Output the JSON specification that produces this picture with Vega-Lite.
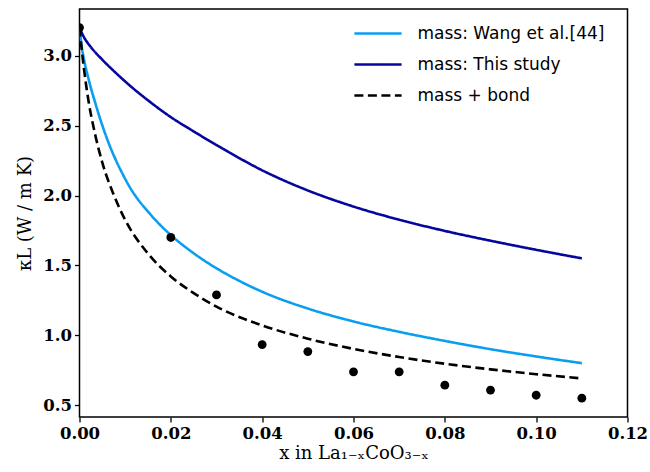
{
  "$schema": "https://vega.github.io/schema/vega-lite/v6.json",
  "width": 548,
  "height": 408,
  "autosize": "none",
  "padding": {"left": 79.5, "top": 9, "right": 22.5, "bottom": 55},
  "background": "white",
  "datasets": {
    "curves": [
      {"series": "mass: Wang et al.[44]", "x": 0.0, "y": 3.2},
      {"series": "mass: Wang et al.[44]", "x": 0.0005, "y": 3.06},
      {"series": "mass: Wang et al.[44]", "x": 0.001, "y": 2.97},
      {"series": "mass: Wang et al.[44]", "x": 0.002, "y": 2.83},
      {"series": "mass: Wang et al.[44]", "x": 0.0036, "y": 2.645},
      {"series": "mass: Wang et al.[44]", "x": 0.005, "y": 2.5},
      {"series": "mass: Wang et al.[44]", "x": 0.0065, "y": 2.365},
      {"series": "mass: Wang et al.[44]", "x": 0.008, "y": 2.25},
      {"series": "mass: Wang et al.[44]", "x": 0.0095, "y": 2.15},
      {"series": "mass: Wang et al.[44]", "x": 0.011, "y": 2.06},
      {"series": "mass: Wang et al.[44]", "x": 0.0124, "y": 1.99},
      {"series": "mass: Wang et al.[44]", "x": 0.015, "y": 1.885},
      {"series": "mass: Wang et al.[44]", "x": 0.0175, "y": 1.795},
      {"series": "mass: Wang et al.[44]", "x": 0.02, "y": 1.7175},
      {"series": "mass: Wang et al.[44]", "x": 0.025, "y": 1.5875},
      {"series": "mass: Wang et al.[44]", "x": 0.03, "y": 1.48},
      {"series": "mass: Wang et al.[44]", "x": 0.035, "y": 1.39},
      {"series": "mass: Wang et al.[44]", "x": 0.04, "y": 1.3125},
      {"series": "mass: Wang et al.[44]", "x": 0.05, "y": 1.1925},
      {"series": "mass: Wang et al.[44]", "x": 0.06, "y": 1.1},
      {"series": "mass: Wang et al.[44]", "x": 0.07, "y": 1.026},
      {"series": "mass: Wang et al.[44]", "x": 0.08, "y": 0.961},
      {"series": "mass: Wang et al.[44]", "x": 0.09, "y": 0.902},
      {"series": "mass: Wang et al.[44]", "x": 0.1, "y": 0.85},
      {"series": "mass: Wang et al.[44]", "x": 0.11, "y": 0.802},
      {"series": "mass: This study", "x": 0.0, "y": 3.2},
      {"series": "mass: This study", "x": 0.001, "y": 3.13},
      {"series": "mass: This study", "x": 0.0025, "y": 3.06},
      {"series": "mass: This study", "x": 0.005, "y": 2.97},
      {"series": "mass: This study", "x": 0.0075, "y": 2.89},
      {"series": "mass: This study", "x": 0.01, "y": 2.815},
      {"series": "mass: This study", "x": 0.0125, "y": 2.745},
      {"series": "mass: This study", "x": 0.015, "y": 2.68},
      {"series": "mass: This study", "x": 0.02, "y": 2.56},
      {"series": "mass: This study", "x": 0.025, "y": 2.458},
      {"series": "mass: This study", "x": 0.03, "y": 2.36},
      {"series": "mass: This study", "x": 0.035, "y": 2.267},
      {"series": "mass: This study", "x": 0.04, "y": 2.18},
      {"series": "mass: This study", "x": 0.045, "y": 2.104},
      {"series": "mass: This study", "x": 0.05, "y": 2.036},
      {"series": "mass: This study", "x": 0.06, "y": 1.921},
      {"series": "mass: This study", "x": 0.07, "y": 1.827},
      {"series": "mass: This study", "x": 0.08, "y": 1.747},
      {"series": "mass: This study", "x": 0.09, "y": 1.677},
      {"series": "mass: This study", "x": 0.1, "y": 1.612},
      {"series": "mass: This study", "x": 0.11, "y": 1.551},
      {"series": "mass + bond", "x": 0.0, "y": 3.2},
      {"series": "mass + bond", "x": 0.0005, "y": 3.04},
      {"series": "mass + bond", "x": 0.001, "y": 2.9},
      {"series": "mass + bond", "x": 0.002, "y": 2.67},
      {"series": "mass + bond", "x": 0.003, "y": 2.5},
      {"series": "mass + bond", "x": 0.005, "y": 2.235},
      {"series": "mass + bond", "x": 0.0075, "y": 2.005},
      {"series": "mass + bond", "x": 0.01, "y": 1.826},
      {"series": "mass + bond", "x": 0.015, "y": 1.585},
      {"series": "mass + bond", "x": 0.02, "y": 1.422},
      {"series": "mass + bond", "x": 0.025, "y": 1.303},
      {"series": "mass + bond", "x": 0.03, "y": 1.206},
      {"series": "mass + bond", "x": 0.04, "y": 1.072},
      {"series": "mass + bond", "x": 0.05, "y": 0.977},
      {"series": "mass + bond", "x": 0.06, "y": 0.904},
      {"series": "mass + bond", "x": 0.07, "y": 0.846},
      {"series": "mass + bond", "x": 0.08, "y": 0.798},
      {"series": "mass + bond", "x": 0.09, "y": 0.758},
      {"series": "mass + bond", "x": 0.1, "y": 0.7235},
      {"series": "mass + bond", "x": 0.11, "y": 0.693}
    ],
    "points": [
      {"x": 0.0, "y": 3.2},
      {"x": 0.02, "y": 1.7},
      {"x": 0.03, "y": 1.29},
      {"x": 0.04, "y": 0.935},
      {"x": 0.05, "y": 0.885},
      {"x": 0.06, "y": 0.74},
      {"x": 0.07, "y": 0.74},
      {"x": 0.08, "y": 0.645},
      {"x": 0.09, "y": 0.61},
      {"x": 0.1, "y": 0.573},
      {"x": 0.11, "y": 0.552}
    ]
  },
  "layer": [
    {
      "data": {"name": "curves"},
      "mark": {"type": "line", "interpolate": "monotone", "strokeWidth": 2.6, "clip": true},
      "encoding": {
        "x": {"field": "x", "type": "quantitative",
              "scale": {"domain": [0, 0.12], "nice": false, "zero": false},
              "axis": {"values": [0, 0.02, 0.04, 0.06, 0.08, 0.1, 0.12], "format": ".2f", "title": "x in La₁₋ₓCoO₃₋ₓ"}},
        "y": {"field": "y", "type": "quantitative",
              "scale": {"domain": [0.4175, 3.3325], "nice": false, "zero": false},
              "axis": {"values": [0.5, 1.0, 1.5, 2.0, 2.5, 3.0], "format": ".1f", "title": "κL (W / m K)"}},
        "color": {"field": "series", "type": "nominal",
                  "scale": {"domain": ["mass: Wang et al.[44]", "mass: This study", "mass + bond"],
                            "range": ["#0a9ef0", "#06069e", "#000000"]},
                  "legend": {"title": null}},
        "strokeDash": {"field": "series", "type": "nominal",
                       "scale": {"domain": ["mass: Wang et al.[44]", "mass: This study", "mass + bond"],
                                 "range": [[1, 0], [1, 0], [9, 4.5]]},
                       "legend": {"title": null}}
      }
    },
    {
      "data": {"name": "points"},
      "mark": {"type": "circle", "size": 78, "color": "black", "opacity": 1, "clip": true},
      "encoding": {
        "x": {"field": "x", "type": "quantitative"},
        "y": {"field": "y", "type": "quantitative"}
      }
    }
  ],
  "config": {
    "view": {"stroke": "black", "strokeWidth": 1.5},
    "axis": {
      "domain": false,
      "grid": false,
      "ticks": true,
      "tickColor": "black",
      "tickSize": 5,
      "tickWidth": 1.3,
      "labelFont": "DejaVu Serif",
      "labelFontSize": 16.5,
      "labelFontWeight": "bold",
      "labelColor": "black",
      "labelPadding": 3,
      "titleFont": "DejaVu Serif",
      "titleFontSize": 18,
      "titleFontWeight": "normal",
      "titleColor": "black"
    },
    "axisX": {"titlePadding": 3, "labelFlush": false},
    "axisY": {"titlePadding": 8},
    "legend": {
      "orient": "none",
      "legendX": 290,
      "legendY": 16,
      "symbolType": "M-4.5,0H4.5",
      "symbolSize": 110,
      "symbolStrokeWidth": 2.6,
      "labelOffset": 31,
      "labelLimit": 0,
      "labelFont": "DejaVu Sans",
      "labelFontSize": 17,
      "labelColor": "black",
      "rowPadding": 13,
      "padding": 0
    }
  }
}
